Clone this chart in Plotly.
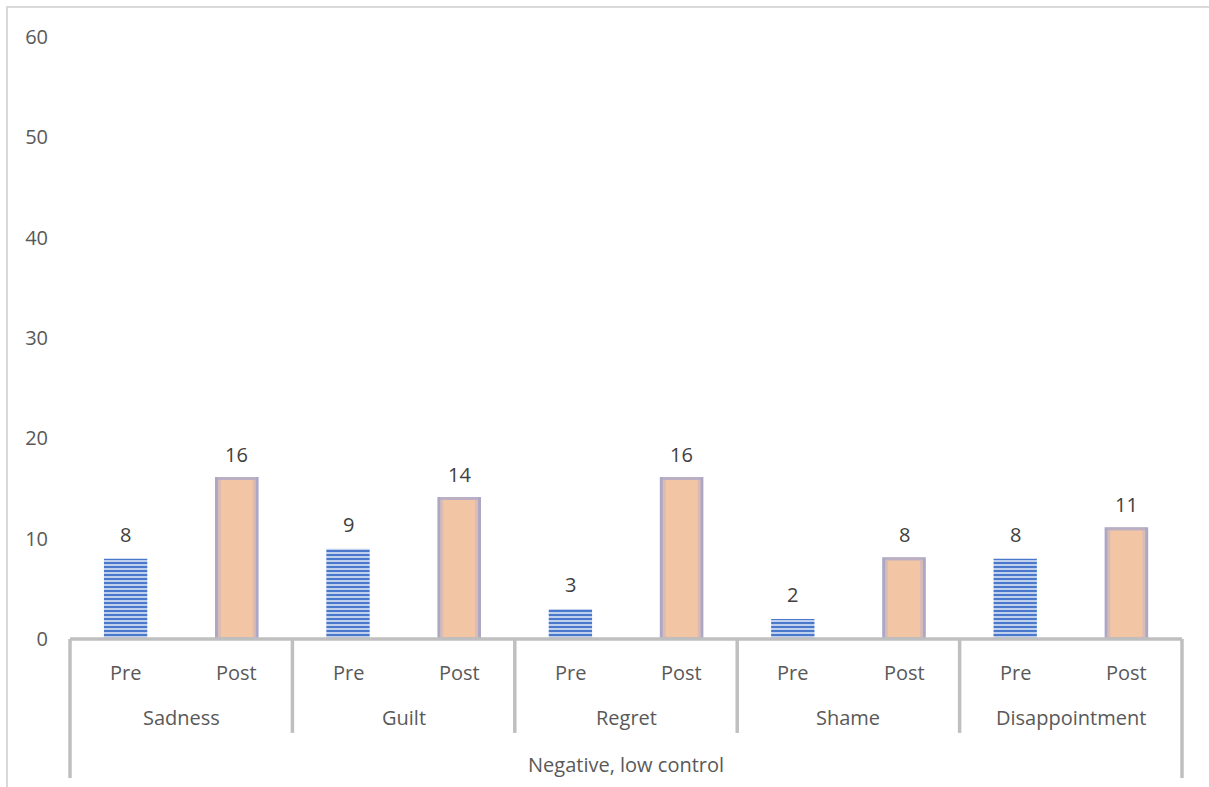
import plotly.graph_objects as go

# Emotion groups, phases and counts
emotions = ["Sadness", "Guilt", "Regret", "Shame", "Disappointment"]
phases = ["Pre", "Post"]
pre_values = [8, 9, 3, 2, 8]
post_values = [16, 14, 16, 8, 11]
super_group = "Negative, low control"
y_ticks = [0, 10, 20, 30, 40, 50, 60]

FONT = "Open Sans"
TXT = "#595959"
AXIS = "#BFBFBF"

slots = [f"{e}|{p}" for e in emotions for p in phases]
pre_x = [f"{e}|Pre" for e in emotions]
post_x = [f"{e}|Post" for e in emotions]

fig = go.Figure()

fig.add_trace(go.Bar(
    x=pre_x, y=pre_values, name="Pre", width=0.39,
    marker=dict(
        color="#DCE6F7",
        line=dict(width=0),
        pattern=dict(shape="-", fgcolor="#4A78CB", bgcolor="#DCE6F7",
                     size=4, solidity=0.6, fillmode="replace"),
    ),
    hoverinfo="x+y",
))

# peach bars with a soft lavender rim
fig.add_trace(go.Bar(
    x=post_x, y=post_values, name="Post", width=0.365,
    marker=dict(color="#F2C5A5", line=dict(color="#ABA8C6", width=3)),
    hoverinfo="x+y",
))
fig.add_trace(go.Bar(
    x=post_x, y=post_values, name="Post", width=0.315,
    marker=dict(color="rgba(0,0,0,0)", line=dict(color="rgba(200,180,195,0.55)", width=3)),
    hoverinfo="skip",
))

annotations = []
# value labels above bars
for xs, vals in ((pre_x, pre_values), (post_x, post_values)):
    for x, v in zip(xs, vals):
        annotations.append(dict(
            x=x, y=v, xref="x", yref="y", text=str(v), showarrow=False,
            yanchor="middle", yshift=24, font=dict(family=FONT, size=20, color="#404040"),
        ))

# three-level category labels
for i, s in enumerate(slots):
    annotations.append(dict(
        x=i, y=-0.055, xref="x", yref="paper", text=s.split("|")[1], showarrow=False,
        yanchor="middle", font=dict(family=FONT, size=20, color=TXT),
    ))
for g, e in enumerate(emotions):
    annotations.append(dict(
        x=2 * g + 0.5, y=-0.1296, xref="x", yref="paper", text=e, showarrow=False,
        yanchor="middle", font=dict(family=FONT, size=20, color=TXT),
    ))
annotations.append(dict(
    x=(len(slots) - 1) / 2, y=-0.209, xref="x", yref="paper", text=super_group,
    showarrow=False, yanchor="middle", font=dict(family=FONT, size=20, color=TXT),
))

shapes = []
# horizontal category axis line
shapes.append(dict(type="line", xref="paper", yref="paper", x0=0, x1=1, y0=0, y1=0,
                   line=dict(color=AXIS, width=3.5)))
# inner group dividers
n_groups = len(emotions)
for g in range(1, n_groups):
    xb = 2 * g - 0.5
    shapes.append(dict(type="line", xref="x", yref="paper", x0=xb, x1=xb,
                       y0=0, y1=-0.156, line=dict(color=AXIS, width=3.5)))
# outer dividers spanning the top-level group
for xp in (0, 1):
    shapes.append(dict(type="line", xref="paper", yref="paper", x0=xp, x1=xp,
                       y0=0, y1=-0.231, line=dict(color=AXIS, width=3.5)))
# chart frame
shapes.append(dict(type="rect", xref="paper", yref="paper",
                   x0=(7 - 70) / 1112, x1=(1215 - 70) / 1112,
                   y0=-0.35, y1=1 + 30 / 602,
                   line=dict(color="#D9D9D9", width=2), fillcolor="rgba(0,0,0,0)", layer="below"))

fig.update_layout(
    width=1209, height=787,
    margin=dict(l=70, r=27, t=37, b=148),
    paper_bgcolor="white", plot_bgcolor="white",
    barmode="overlay", showlegend=False,
    font=dict(family=FONT, size=20, color=TXT),
    xaxis=dict(type="category", categoryorder="array", categoryarray=slots,
               range=[-0.5, len(slots) - 0.5], showticklabels=False,
               showline=False, showgrid=False, zeroline=False, ticks=""),
    yaxis=dict(range=[0, 60], tickvals=y_ticks, showgrid=False, zeroline=False,
               showline=False, ticks="", ticklabelstandoff=21,
               tickfont=dict(family=FONT, size=20, color=TXT)),
    annotations=annotations,
    shapes=shapes,
)

fig.write_html("out.html")
